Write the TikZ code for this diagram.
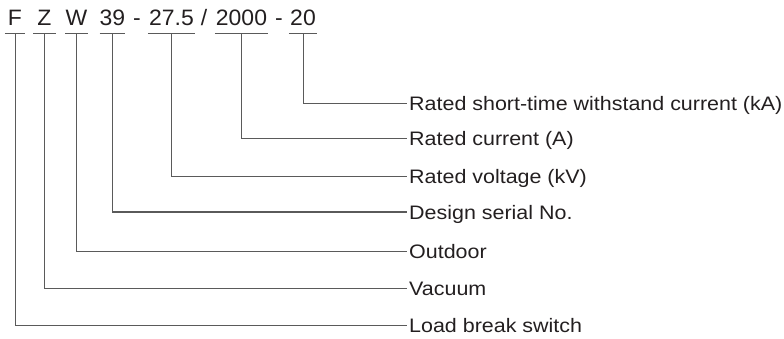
\documentclass[tikz,border=0pt]{standalone}
\usepackage{fontspec}
\setmainfont[FakeStretch=1.1]{Liberation Sans}
\newfontfamily\topfont[FakeStretch=1.03]{Liberation Sans}
\definecolor{txt}{HTML}{231F20}
\definecolor{ln}{HTML}{5A5A5A}
\begin{document}
\begin{tikzpicture}[x=1pt,y=-1pt,
  tok/.style={anchor=base, inner xsep=0pt, inner ysep=0pt, text depth=7pt, text=txt,
    font=\topfont\fontsize{22.3}{24}\selectfont},
  sep/.style={anchor=base, inner sep=0pt, text=txt, font=\topfont\fontsize{22.3}{24}\selectfont},
  lab/.style={anchor=west, inner xsep=2pt, inner ysep=0pt, text height=14pt, text depth=0pt,
    text=txt, font=\fontsize{19.5}{22}\selectfont},
  uline/.style={draw=ln, line width=1pt},
  conn/.style={draw=ln, line width=1pt}]
\useasboundingbox (0,0) rectangle (784,339);
% code tokens
\node[tok, minimum width=20pt] (F) at (15,26) {F};
\node[tok, minimum width=22pt] (Z) at (44.5,26) {Z};
\node[tok, minimum width=21pt] (W) at (76.5,26) {W};
\node[tok, minimum width=24pt] (N39) at (112.5,26) {39};
\node[sep] (d1) at (137,26) {-};
\node[tok, minimum width=47pt] (V) at (171.5,26) {27.5};
\node[sep] (sl) at (204,26) {/};
\node[tok, minimum width=53pt] (I) at (241.5,26) {2000};
\node[sep] (d2) at (279,26) {-};
\node[tok, minimum width=28pt] (K) at (303,26) {20};
% labels
\node[lab] (lK) at (407,103.3) {Rated short-time withstand current (kA)};
\node[lab] (lI) at (407,138.3) {Rated current (A)};
\node[lab] (lV) at (407,177) {Rated voltage (kV)};
\node[lab] (lN) at (407,212) {Design serial No.};
\node[lab] (lW) at (407,251.7) {Outdoor};
\node[lab] (lZ) at (407,288.5) {Vacuum};
\node[lab] (lF) at (407,325.5) {Load break switch};
% underlines
\foreach \n in {F,Z,W,N39,V,I,K}{
  \draw[uline] (\n.south west) -- (\n.south east);
}
% connectors
\draw[conn] (K.south) |- (lK.west);
\draw[conn] (I.south) |- (lI.west);
\draw[conn] (V.south) |- (lV.west);
\draw[conn] (N39.south) |- (lN.west);
\draw[conn] (W.south) |- (lW.west);
\draw[conn] (Z.south) |- (lZ.west);
\draw[conn] (F.south) |- (lF.west);
\end{tikzpicture}
\end{document}
